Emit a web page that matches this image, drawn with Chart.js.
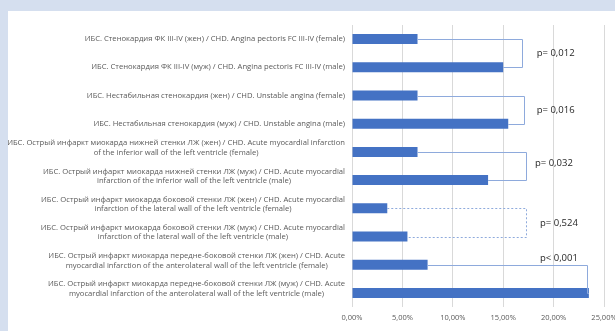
<!DOCTYPE html>
<html>
<head>
<meta charset="utf-8">
<script src="https://cdn.jsdelivr.net/npm/chart.js@4"></script>
<style>
  html, body { margin: 0; padding: 0; background: #d5dfef; }
  #wrap { width: 615px; height: 331px; }
</style>
</head>
<body>
<div id="wrap"><canvas id="grafico" width="615" height="331"></canvas></div>
<script>
const categorias = [
  "ИБС. Стенокардия ФК III-IV (жен) / CHD. Angina pectoris FC III-IV (female)",
  "ИБС. Стенокардия ФК III-IV (муж) / CHD. Angina pectoris FC III-IV (male)",
  "ИБС. Нестабильная стенокардия (жен) / CHD. Unstable angina (female)",
  "ИБС. Нестабильная стенокардия (муж) / CHD. Unstable angina (male)",
  ["ИБС. Острый инфаркт миокарда нижней стенки ЛЖ (жен) / CHD. Acute myocardial infarction", "of the inferior wall of the left ventricle (female)"],
  ["ИБС. Острый инфаркт миокарда нижней стенки ЛЖ (муж) / CHD. Acute myocardial", "infarction of the inferior wall of the left ventricle (male)"],
  ["ИБС. Острый инфаркт миокарда боковой стенки ЛЖ (жен) / CHD. Acute myocardial", "infarction of the lateral wall of the left ventricle (female)"],
  ["ИБС. Острый инфаркт миокарда боковой стенки ЛЖ (муж) / CHD. Acute myocardial", "infarction of the lateral wall of the left ventricle (male)"],
  ["ИБС. Острый инфаркт миокарда передне-боковой стенки ЛЖ (жен) / CHD. Acute", "myocardial infarction of the anterolateral wall of the left ventricle (female)"],
  ["ИБС. Острый инфаркт миокарда передне-боковой стенки ЛЖ (муж) / CHD. Acute", "myocardial infarction of the anterolateral wall of the left ventricle (male)"]
];
const valores = [6.5, 15.0, 6.5, 15.5, 6.5, 13.5, 3.5, 5.5, 7.5, 23.5];
const xTicks = [0, 5, 10, 15, 20, 25];

// pairs compared and their p labels
const pares = [[0, 1], [2, 3], [4, 5], [6, 7], [8, 9]];
const pTextos = ["p= 0,012", "p= 0,016", "p= 0,032", "p= 0,524", "p< 0,001"];

// bracket layout (value units on x, pixel offsets on y)
const colchetes = [
  { x: 16.87, lx: 18.32, dy: 0, dash: [] },
  { x: 17.03, lx: 18.32, dy: 0, dash: [] },
  { x: 17.23, lx: 18.15, dy: -3, dash: [] },
  { x: 17.23, lx: 18.65, dy: 0, dash: [2, 2] },
  { x: 23.28, lx: 18.65, dy: null, dash: [] }
];

const fundo = {
  id: "fundo",
  beforeDraw(chart) {
    const c = chart.ctx;
    c.save();
    c.fillStyle = "#d5dfef";
    c.fillRect(0, 0, chart.width, chart.height);
    c.fillStyle = "#ffffff";
    c.fillRect(8, 11, chart.width - 8, chart.height - 11);
    c.restore();
  }
};

const rotulosY = {
  id: "rotulosY",
  afterDraw(chart) {
    const c = chart.ctx;
    const y = chart.scales.y;
    c.save();
    c.font = "7.65px 'Open Sans'";
    c.fillStyle = "#595959";
    c.textAlign = "center";
    c.textBaseline = "middle";
    categorias.forEach((lab, i) => {
      const linhas = Array.isArray(lab) ? lab : [lab];
      const larg = Math.max(...linhas.map(l => c.measureText(l).width));
      const cx = 345 - larg / 2;
      const py = y.getPixelForValue(i) + (linhas.length > 1 ? -4 : 0);
      const lh = 9.5;
      linhas.forEach((l, k) => {
        c.fillText(l, cx, py + (k - (linhas.length - 1) / 2) * lh);
      });
    });
    c.restore();
  }
};

const colchetesPlugin = {
  id: "colchetes",
  afterDatasetsDraw(chart) {
    const c = chart.ctx;
    const x = chart.scales.x;
    const y = chart.scales.y;
    c.save();
    pares.forEach((par, i) => {
      const cfg = colchetes[i];
      const [a, b] = par;
      const ya = Math.round(y.getPixelForValue(a)) + 0.5;
      const yb = Math.round(y.getPixelForValue(b)) + 0.5;
      const xa = x.getPixelForValue(valores[a]);
      const xb = x.getPixelForValue(valores[b]);
      const xr = Math.round(x.getPixelForValue(cfg.x)) + 0.5;
      c.strokeStyle = "#8eaadc";
      c.lineWidth = 1;
      c.setLineDash(cfg.dash);
      c.beginPath();
      c.moveTo(xa, ya);
      c.lineTo(xr, ya);
      c.lineTo(xr, yb);
      c.lineTo(xb, yb);
      c.stroke();
      c.setLineDash([]);
      c.font = "9.5px 'Open Sans'";
      c.fillStyle = "#262626";
      c.textAlign = "left";
      c.textBaseline = "middle";
      const ly = cfg.dy === null ? ya - 7 : (ya + yb) / 2 + cfg.dy;
      c.fillText(pTextos[i], x.getPixelForValue(cfg.lx), ly);
    });
    c.restore();
  }
};

new Chart(document.getElementById("grafico"), {
  type: "bar",
  data: {
    labels: categorias,
    datasets: [{
      data: valores,
      backgroundColor: "#4472c4",
      borderWidth: 0,
      categoryPercentage: 0.5,
      barPercentage: 0.71
    }]
  },
  options: {
    indexAxis: "y",
    responsive: false,
    animation: false,
    layout: { padding: { top: 25, right: 11, left: 0, bottom: 0 } },
    plugins: {
      legend: { display: false },
      tooltip: { enabled: false }
    },
    scales: {
      x: {
        min: 0,
        max: 25,
        afterBuildTicks: s => { s.ticks = xTicks.map(v => ({ value: v })); },
        ticks: {
          callback: v => v.toFixed(2).replace(".", ",") + "%",
          font: { family: "'Open Sans'", size: 7.5 },
          color: "#595959",
          padding: 6,
          maxRotation: 0
        },
        grid: { color: "#d9d9d9", drawTicks: false },
        border: { display: false },
        afterFit: s => { s.height = 24; s.paddingLeft = 0; s.paddingRight = 0; }
      },
      y: {
        ticks: { display: false },
        grid: { display: false },
        border: { display: false },
        afterFit: s => { s.width = 352; }
      }
    }
  },
  plugins: [fundo, colchetesPlugin, rotulosY]
});
</script>
</body>
</html>
